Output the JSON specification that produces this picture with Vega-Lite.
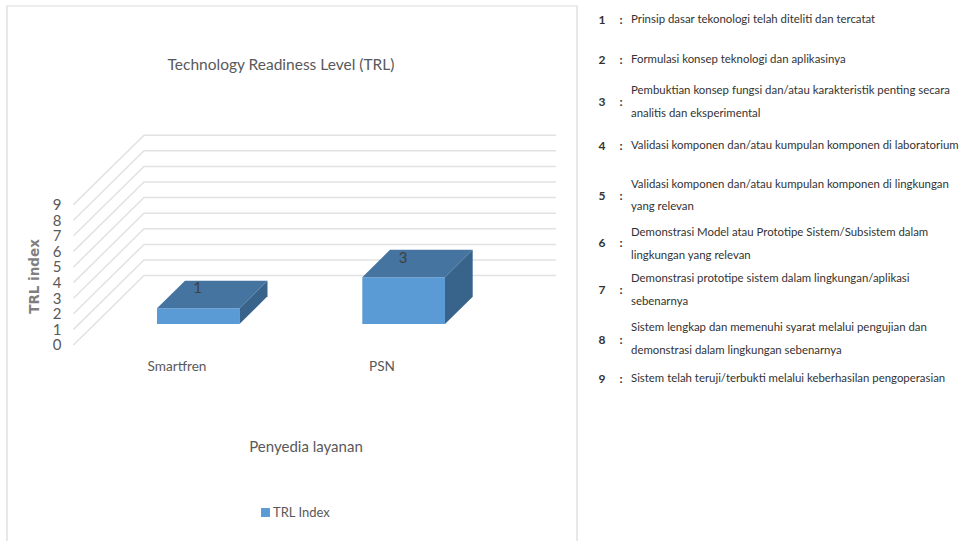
{
"$schema":"https://vega.github.io/schema/vega-lite/v6.json",
"width":969,"height":541,"autosize":{"type":"none"},"padding":0,"background":"white",
"config":{"view":{"stroke":null},"font":"Lato"},
"datasets":{
"grid":[
{"level":0,"x":73.5,"y":0},{"level":0,"x":144,"y":4.45},{"level":0,"x":556,"y":4.45},
{"level":1,"x":73.5,"y":1},{"level":1,"x":144,"y":5.45},{"level":1,"x":556,"y":5.45},
{"level":2,"x":73.5,"y":2},{"level":2,"x":144,"y":6.45},{"level":2,"x":556,"y":6.45},
{"level":3,"x":73.5,"y":3},{"level":3,"x":144,"y":7.45},{"level":3,"x":556,"y":7.45},
{"level":4,"x":73.5,"y":4},{"level":4,"x":144,"y":8.45},{"level":4,"x":556,"y":8.45},
{"level":5,"x":73.5,"y":5},{"level":5,"x":144,"y":9.45},{"level":5,"x":556,"y":9.45},
{"level":6,"x":73.5,"y":6},{"level":6,"x":144,"y":10.45},{"level":6,"x":556,"y":10.45},
{"level":7,"x":73.5,"y":7},{"level":7,"x":144,"y":11.45},{"level":7,"x":556,"y":11.45},
{"level":8,"x":73.5,"y":8},{"level":8,"x":144,"y":12.45},{"level":8,"x":556,"y":12.45},
{"level":9,"x":73.5,"y":9},{"level":9,"x":144,"y":13.45},{"level":9,"x":556,"y":13.45}
],
"bars":[
{"provider":"Smartfren","series":"TRL Index","trl":1,"x0":157,"x1":239.5,"base":1.35,"top":2.35,"labelX":197.5,"labelY":3.65},
{"provider":"PSN","series":"TRL Index","trl":3,"x0":362.3,"x1":445,"base":1.35,"top":4.35,"labelX":403,"labelY":5.6}
],
"topFace":[
{"provider":"Smartfren","y":2.35,"x":157,"x2":239.5},
{"provider":"Smartfren","y":4.12,"x":185,"x2":267.5},
{"provider":"PSN","y":4.35,"x":362.3,"x2":445},
{"provider":"PSN","y":6.1,"x":390,"x2":472.7}
],
"sideFace":[
{"provider":"Smartfren","x":239.5,"y":2.35,"y2":1.35},
{"provider":"Smartfren","x":267.5,"y":4.12,"y2":3.12},
{"provider":"PSN","x":445,"y":4.35,"y2":1.35},
{"provider":"PSN","x":472.7,"y":6.1,"y2":3.1}
],
"panel":[{"x":7,"x2":577,"y":6,"y2":560}],
"labels":[
{"t":"Technology Readiness Level (TRL)","x":281,"y":65,"k":"title"},
{"t":"Smartfren","x":177,"y":367,"k":"cat"},
{"t":"PSN","x":382,"y":367,"k":"cat"},
{"t":"Penyedia layanan","x":306,"y":447,"k":"axis"}
],
"notes":[
{"n":"1","c":":","ny":20,"line":20,"t":"Prinsip dasar tekonologi telah diteliti dan tercatat"},
{"n":"2","c":":","ny":60,"line":60,"t":"Formulasi konsep teknologi dan aplikasinya"},
{"n":"3","c":":","ny":102,"line":91,"t":"Pembuktian konsep fungsi dan/atau karakteristik penting secara"},
{"line":114,"t":"analitis dan eksperimental"},
{"n":"4","c":":","ny":146,"line":146,"t":"Validasi komponen dan/atau kumpulan komponen di laboratorium"},
{"n":"5","c":":","ny":196,"line":185,"t":"Validasi komponen dan/atau kumpulan komponen di lingkungan"},
{"line":207,"t":"yang relevan"},
{"n":"6","c":":","ny":243,"line":233,"t":"Demonstrasi Model atau Prototipe Sistem/Subsistem dalam"},
{"line":256,"t":"lingkungan yang relevan"},
{"n":"7","c":":","ny":290,"line":279,"t":"Demonstrasi prototipe sistem dalam lingkungan/aplikasi"},
{"line":302,"t":"sebenarnya"},
{"n":"8","c":":","ny":340,"line":328,"t":"Sistem lengkap dan memenuhi syarat melalui pengujian dan"},
{"line":351,"t":"demonstrasi dalam lingkungan sebenarnya"},
{"n":"9","c":":","ny":379,"line":379,"t":"Sistem telah teruji/terbukti melalui keberhasilan pengoperasian"}
]
},
"resolve":{"scale":{"y":"independent"}},
"layer":[
{"layer":[
{"data":{"name":"grid"},"mark":{"type":"line","color":"#e2e2e2","strokeWidth":1.5},
 "encoding":{"x":{"field":"x","type":"quantitative","scale":{"domain":[0,969],"nice":false},"axis":null},
 "y":{"field":"y","type":"quantitative","scale":{"domain":[-12.564,22.115],"nice":false},
  "axis":{"orient":"left","offset":-66,"values":[0,1,2,3,4,5,6,7,8,9],"labelOverlap":false,"domain":false,"ticks":false,"grid":false,"labelPadding":5,"labelFontSize":15,"labelColor":"#595959","labelFont":"Lato","title":"TRL index","titleFont":"DejaVu Sans","titleFontSize":13.5,"titleFontWeight":"bold","titleColor":"#7f7f7f","titleX":-25,"titleY":276,"titleAngle":-90}},
 "detail":{"field":"level"},"order":{"field":"x"}}},
{"data":{"name":"bars"},"mark":{"type":"rect"},
 "encoding":{"x":{"field":"x0","type":"quantitative"},"x2":{"field":"x1"},
 "y":{"field":"base","type":"quantitative"},"y2":{"field":"top"},
 "color":{"field":"series","type":"nominal","scale":{"range":["#5b9bd5"]},
  "legend":{"orient":"none","legendX":259,"legendY":506,"title":null,"symbolType":"square","symbolSize":80,"symbolStrokeWidth":0,"labelFontSize":13,"labelColor":"#595959","labelFont":"Lato","labelOffset":1}}}},
{"data":{"name":"topFace"},"mark":{"type":"area","orient":"horizontal","color":"#44749f"},
 "encoding":{"y":{"field":"y","type":"quantitative"},"x":{"field":"x","type":"quantitative"},"x2":{"field":"x2"},"detail":{"field":"provider"}}},
{"data":{"name":"sideFace"},"mark":{"type":"area","orient":"vertical","color":"#38648c"},
 "encoding":{"x":{"field":"x","type":"quantitative"},"y":{"field":"y","type":"quantitative"},"y2":{"field":"y2"},"detail":{"field":"provider"}}},
{"data":{"name":"bars"},"mark":{"type":"text","fontSize":15,"color":"#404040"},
 "encoding":{"x":{"field":"labelX","type":"quantitative"},"y":{"field":"labelY","type":"quantitative"},"text":{"field":"trl"}}}
]},
{"layer":[
{"data":{"name":"panel"},"mark":{"type":"rect","fill":null,"stroke":"#d9d9d9","strokeWidth":1.2},
 "encoding":{"x":{"field":"x","type":"quantitative"},"x2":{"field":"x2"},
 "y":{"field":"y","type":"quantitative","scale":{"domain":[541,0],"nice":false},"axis":null},"y2":{"field":"y2"}}},
{"data":{"name":"labels"},"transform":[{"filter":"datum.k=='title'"}],"mark":{"type":"text","fontSize":15.5,"color":"#595959"},
 "encoding":{"x":{"field":"x","type":"quantitative"},"y":{"field":"y","type":"quantitative"},"text":{"field":"t"}}},
{"data":{"name":"labels"},"transform":[{"filter":"datum.k=='cat'"}],"mark":{"type":"text","fontSize":13.6,"color":"#595959"},
 "encoding":{"x":{"field":"x","type":"quantitative"},"y":{"field":"y","type":"quantitative"},"text":{"field":"t"}}},
{"data":{"name":"labels"},"transform":[{"filter":"datum.k=='axis'"}],"mark":{"type":"text","fontSize":15,"color":"#595959"},
 "encoding":{"x":{"field":"x","type":"quantitative"},"y":{"field":"y","type":"quantitative"},"text":{"field":"t"}}},
{"data":{"name":"notes"},"mark":{"type":"text","align":"left","fontSize":11.4,"color":"#333333"},
 "encoding":{"x":{"datum":631,"type":"quantitative"},"y":{"field":"line","type":"quantitative"},"text":{"field":"t"}}},
{"data":{"name":"notes"},"transform":[{"filter":"datum.n"}],"mark":{"type":"text","fontSize":12,"fontWeight":"bold","color":"#333333"},
 "encoding":{"x":{"datum":602,"type":"quantitative"},"y":{"field":"ny","type":"quantitative"},"text":{"field":"n"}}},
{"data":{"name":"notes"},"transform":[{"filter":"datum.n"}],"mark":{"type":"text","fontSize":12,"fontWeight":"bold","color":"#333333"},
 "encoding":{"x":{"datum":621,"type":"quantitative"},"y":{"field":"ny","type":"quantitative"},"text":{"field":"c"}}}
]}
]
}
